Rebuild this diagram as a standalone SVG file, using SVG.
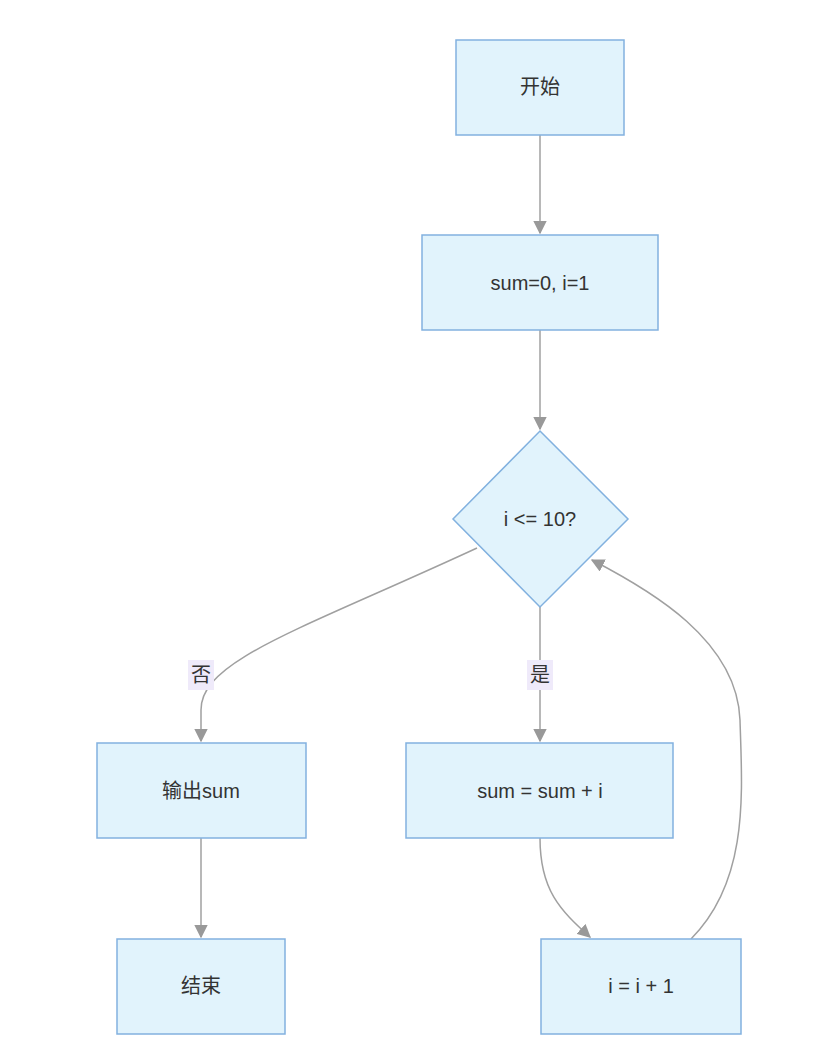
<svg xmlns="http://www.w3.org/2000/svg" width="839" height="1039" viewBox="0 0 839 1039">
<style>
.n{fill:#e1f3fc;stroke:#82b1df;stroke-width:1.5}
.t{font-family:"Liberation Sans","Noto Sans CJK SC",sans-serif;font-size:20px;fill:#333;text-anchor:middle;dominant-baseline:central}
.e{fill:none;stroke:#a0a0a0;stroke-width:1.5}
</style>
<defs><marker id="a" viewBox="0 0 10 10" refX="9" refY="5" markerWidth="9" markerHeight="9" orient="auto"><path d="M0,0L10,5L0,10z" fill="#999"/></marker></defs>
<rect width="839" height="1039" fill="#fff"/>
<g id="edges">
<path class="e" marker-end="url(#a)" d="M540,135L540,233"/>
<path class="e" marker-end="url(#a)" d="M540,330L540,429"/>
<path class="e" marker-end="url(#a)" d="M477,548C300,630 201,660 201,710L201,741"/>
<path class="e" marker-end="url(#a)" d="M540,607L540,741"/>
<path class="e" marker-end="url(#a)" d="M540,838C540,890 560,910 590,937"/>
<path class="e" marker-end="url(#a)" d="M691,939C750,880 742,790 740,720C737,640 650,590 592,560"/>
<path class="e" marker-end="url(#a)" d="M201,838L201,937"/>
<rect x="188" y="660" width="26" height="30" fill="#efeafa"/>
<text class="t" x="201" y="675">否</text>
<rect x="527" y="660" width="26" height="30" fill="#efeafa"/>
<text class="t" x="540" y="675">是</text>
</g>
<g id="start"><rect class="n" x="456" y="40" width="168" height="95"/><text class="t" x="540" y="87">开始</text></g>
<g id="init"><rect class="n" x="422" y="235" width="236" height="95"/><text class="t" x="540" y="283">sum=0, i=1</text></g>
<g id="cond"><polygon class="n" points="540,431 628,519 540,607 453,519"/><text class="t" x="540" y="519">i &lt;= 10?</text></g>
<g id="out"><rect class="n" x="97" y="743" width="209" height="95"/><text class="t" x="201" y="791">输出sum</text></g>
<g id="add"><rect class="n" x="406" y="743" width="267" height="95"/><text class="t" x="540" y="791">sum = sum + i</text></g>
<g id="end"><rect class="n" x="117" y="939" width="168" height="95"/><text class="t" x="201" y="986">结束</text></g>
<g id="inc"><rect class="n" x="541" y="939" width="200" height="95"/><text class="t" x="641" y="986">i = i + 1</text></g>
</svg>
